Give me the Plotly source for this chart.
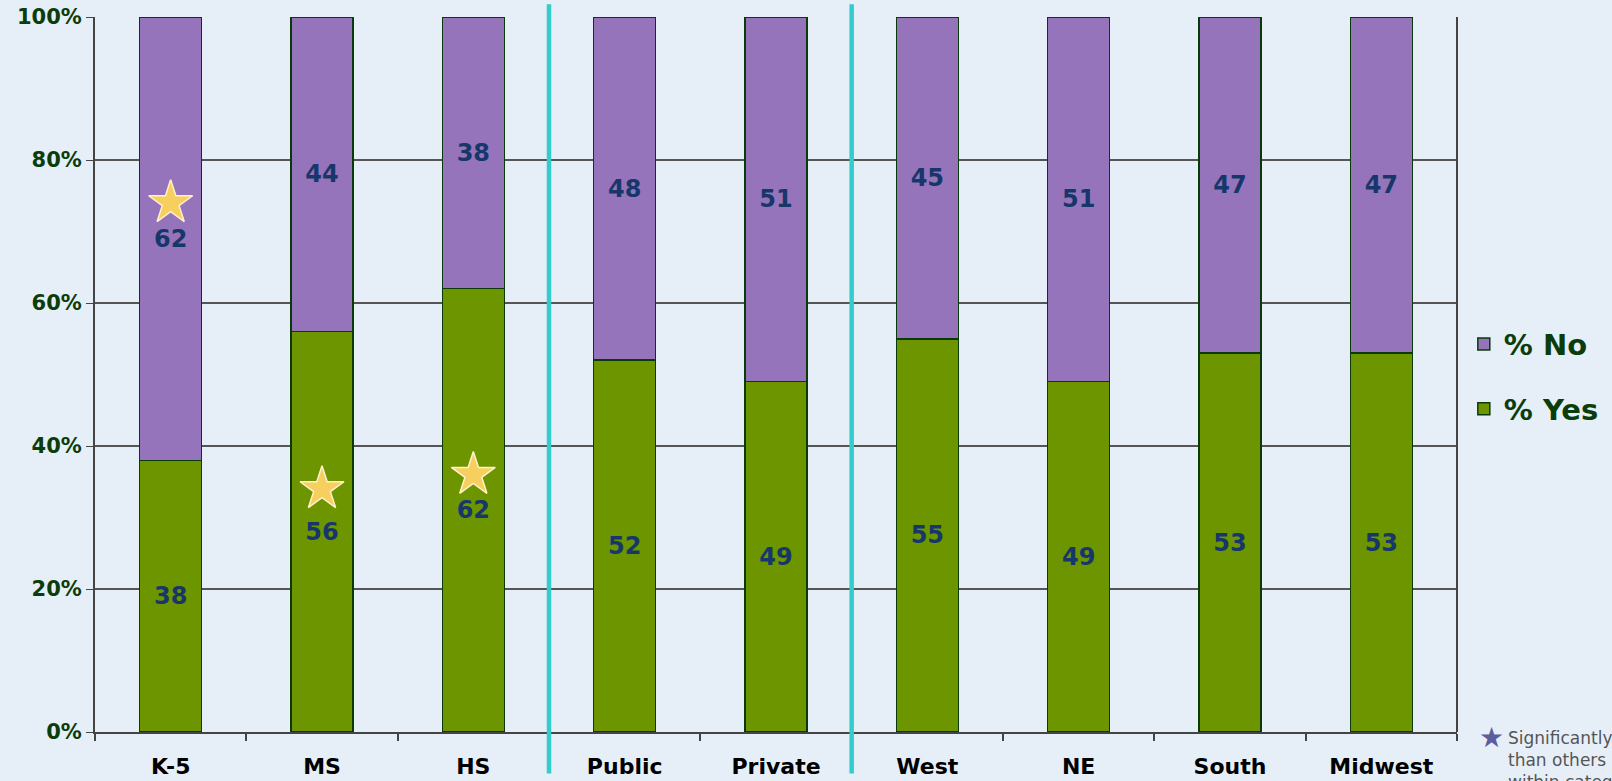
import plotly.graph_objects as go

categories = ["K-5", "MS", "HS", "Public", "Private", "West", "NE", "South", "Midwest"]
yes_values = [38, 56, 62, 52, 49, 55, 49, 53, 53]
no_values = [62, 44, 38, 48, 51, 45, 51, 47, 47]
star_categories = ["K-5", "MS", "HS"]
star_positions = [74, 34, 36]
y_ticks = [0, 20, 40, 60, 80, 100]
y_tick_labels = ["0%", "20%", "40%", "60%", "80%", "100%"]
divider_after = [2.5, 4.5]
footnote_lines = ["Significantly higher", "than others", "within category", "90% CI"]

FONT = "DejaVu Sans"
LABEL_COLOR = "#17376b"
AXIS_GREEN = "#0b3d0b"

fig = go.Figure()
fig.add_trace(go.Bar(
    x=categories, y=yes_values, name="% Yes",
    marker=dict(color="#6c9500", line=dict(color="#0a3a0a", width=1.5)),
    text=[str(v) for v in yes_values], textposition="inside", insidetextanchor="middle",
    textfont=dict(family=FONT, size=24, color=LABEL_COLOR, weight="bold"),
    constraintext="none", legendgroup="yes", legendrank=2, hoverinfo="skip",
))
fig.add_trace(go.Bar(
    x=categories, y=no_values, name="% No",
    marker=dict(color="#9674bb", line=dict(color="#0a3a0a", width=1.5)),
    text=[str(v) for v in no_values], textposition="inside", insidetextanchor="middle",
    textfont=dict(family=FONT, size=24, color=LABEL_COLOR, weight="bold"),
    constraintext="none", legendgroup="no", legendrank=1, hoverinfo="skip",
))
fig.add_trace(go.Scatter(
    x=star_categories, y=star_positions, mode="markers", showlegend=False,
    marker=dict(symbol="star", size=33, color="#f7cf5e", line=dict(color="#fff2c8", width=1.5)),
    hoverinfo="skip",
))

for xd in divider_after:
    fig.add_shape(type="line", x0=xd, x1=xd, xref="x", y0=-0.058, y1=1.018, yref="paper",
                  line=dict(color="#33cccc", width=4.5), layer="above")

fig.add_shape(type="line", xref="paper", yref="paper", x0=1, x1=1, y0=0, y1=1,
              line=dict(color="#444444", width=2))

fig.add_annotation(
    xref="paper", yref="paper", x=1.025, y=-0.007, xanchor="center", yanchor="middle",
    text="★", showarrow=False, font=dict(family=FONT, size=28, color="#5d5d9c"))
fig.add_annotation(
    xref="paper", yref="paper", x=1.036, y=0.008, xanchor="left", yanchor="top",
    text="<br>".join(footnote_lines), align="left", showarrow=False,
    font=dict(family=FONT, size=17, color="#555555"))

fig.update_layout(
    width=1612, height=781,
    margin=dict(l=95, r=155, t=17, b=49, autoexpand=False),
    barmode="stack", bargap=0.59,
    paper_bgcolor="#e6eff8", plot_bgcolor="rgba(0,0,0,0)",
    showlegend=True,
    legend=dict(x=1.005, y=0.497, xanchor="left", yanchor="middle", traceorder="grouped",
                font=dict(family=FONT, size=29, color=AXIS_GREEN, weight="bold"),
                bgcolor="rgba(0,0,0,0)", tracegroupgap=24, itemwidth=30),
    xaxis=dict(showline=True, linecolor="#444444", linewidth=2, ticks="outside", tickson="boundaries",
               ticklen=7, tickcolor="#444444", tickwidth=1.5, ticklabelstandoff=14, automargin=False,
               tickfont=dict(family=FONT, size=22, color="#000000", weight="bold"),
               range=[-0.5, 8.5], showgrid=False),
    yaxis=dict(range=[0, 100], tickmode="array", tickvals=y_ticks, ticktext=y_tick_labels,
               showline=True, linecolor="#444444", automargin=False,
               linewidth=2, ticks="outside", ticklen=7, tickcolor="#444444",
               showgrid=True, gridcolor="#555555", gridwidth=1.5, zeroline=False,
               tickfont=dict(family=FONT, size=21, color=AXIS_GREEN, weight="bold")),
)

fig.write_html("out.html")
